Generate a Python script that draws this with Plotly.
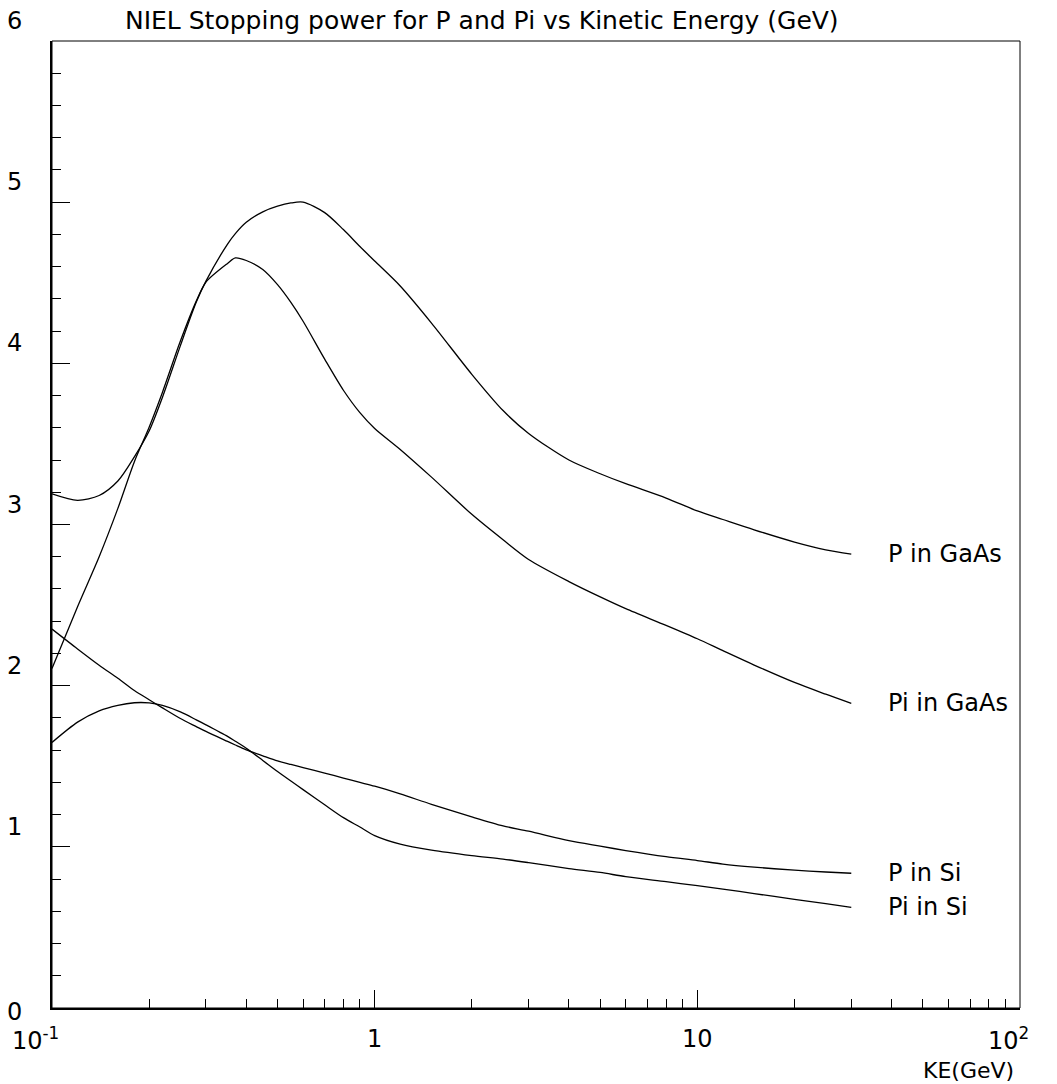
import math
import plotly.graph_objects as go

# ---------------- data ----------------
ke = [0.1, 0.12, 0.14, 0.16, 0.18, 0.2, 0.22, 0.25, 0.28, 0.3, 0.35, 0.37, 0.4, 0.45,
      0.5, 0.55, 0.6, 0.7, 0.8, 0.9, 1.0, 1.2, 1.5, 2.0, 2.5, 3.0, 4.0, 5.0, 6.0,
      8.0, 10.0, 12.0, 15.0, 20.0, 25.0, 30.0]

p_gaas = [3.19, 3.15, 3.18, 3.27, 3.42, 3.58, 3.79, 4.11, 4.38, 4.51, 4.74, 4.805, 4.875, 4.94,
          4.975, 4.995, 5.0, 4.935, 4.83, 4.725, 4.635, 4.48, 4.25, 3.932, 3.707, 3.565, 3.40,
          3.315, 3.253, 3.164, 3.084, 3.031, 2.967, 2.891, 2.843, 2.816]

pi_gaas = [2.107, 2.49, 2.80, 3.10, 3.39, 3.604, 3.821, 4.138, 4.386, 4.504, 4.62, 4.654, 4.638, 4.582,
           4.488, 4.378, 4.261, 4.026, 3.833, 3.694, 3.596, 3.466, 3.294, 3.063, 2.905, 2.783, 2.646,
           2.551, 2.478, 2.374, 2.291, 2.217, 2.128, 2.02, 1.947, 1.89]

p_si = [2.351, 2.228, 2.127, 2.046, 1.97, 1.913, 1.862, 1.796, 1.746, 1.716, 1.654, 1.632, 1.602, 1.565,
        1.533, 1.511, 1.492, 1.458, 1.427, 1.4, 1.376, 1.328, 1.264, 1.186, 1.13, 1.097, 1.038,
        1.004, 0.977, 0.939, 0.915, 0.893, 0.874, 0.855, 0.844, 0.836]

pi_si = [1.648, 1.774, 1.844, 1.878, 1.894, 1.893, 1.877, 1.837, 1.788, 1.757, 1.685, 1.655, 1.612, 1.536,
         1.467, 1.408, 1.355, 1.261, 1.181, 1.123, 1.07, 1.017, 0.98, 0.946, 0.924, 0.902, 0.865,
         0.841, 0.815, 0.784, 0.759, 0.738, 0.71, 0.674, 0.647, 0.625]

series_names = ["P in GaAs", "Pi in GaAs", "P in Si", "Pi in Si"]
series_values = [p_gaas, pi_gaas, p_si, pi_si]

y_tick_vals = [0, 1, 2, 3, 4, 5, 6]
y_tick_text = ["0", "1", "2", "3", "4", "5", "6"]
x_tick_vals = [0.1, 1, 10, 100]
x_tick_text = ["10<sup>-1</sup>", "1", "10", "10<sup>2</sup>"]
x_minor_vals = [m * d for d in (0.1, 1, 10) for m in range(2, 10)]

title_text = "NIEL Stopping power for P and Pi vs Kinetic Energy (GeV)"
x_title = "KE(GeV)"

FONT = "DejaVu Sans, Liberation Sans, sans-serif"
FS = 24

fig = go.Figure()
for name, vals in zip(series_names, series_values):
    fig.add_trace(go.Scatter(x=ke, y=vals, mode="lines", name=name,
                             line=dict(color="black", width=1.3, shape="spline", smoothing=0.8),
                             showlegend=False, hoverinfo="skip"))

annotations = []
# curve labels at the end of each curve (log axis -> annotation x in log10 units)
for name, vals in zip(series_names, series_values):
    annotations.append(dict(x=math.log10(ke[-1]), y=vals[-1], xref="x", yref="y", text=name,
                            showarrow=False, xanchor="left", yanchor="middle", xshift=35,
                            font=dict(family=FONT, size=FS, color="black")))
# y tick labels
for v, t in zip(y_tick_vals, y_tick_text):
    annotations.append(dict(x=0, y=v, xref="paper", yref="y", text=t, showarrow=False,
                            xanchor="right", yanchor="middle", xshift=-28,
                            yshift=(20 if v > 0 else -4),
                            font=dict(family=FONT, size=FS, color="black")))
# x tick labels
x_shifts = {0.1: -17, 1: 0, 10: 0, 100: -12}
for v, t in zip(x_tick_vals, x_tick_text):
    annotations.append(dict(x=math.log10(v), y=0, xref="x", yref="paper", text=t, showarrow=False,
                            xanchor="center", yanchor="middle", xshift=x_shifts[v], yshift=-31,
                            font=dict(family=FONT, size=FS, color="black")))
# x title
annotations.append(dict(x=1, y=0, xref="paper", yref="paper", text=x_title, showarrow=False,
                        xanchor="right", yanchor="middle", xshift=-4, yshift=-62,
                        font=dict(family=FONT, size=22, color="black")))

fig.update_layout(
    width=1057, height=1084,
    margin=dict(l=52, r=37, t=41, b=76, pad=0),
    paper_bgcolor="white", plot_bgcolor="white",
    title=dict(text=title_text, x=125 / 1057, xanchor="left", xref="container",
               y=1 - 20 / 1084, yanchor="middle", yref="container",
               font=dict(family=FONT, size=25, color="black")),
    annotations=annotations,
    shapes=[dict(type="rect", xref="paper", yref="paper", x0=0, x1=1, y0=0, y1=1,
                 line=dict(color="black", width=1), fillcolor="rgba(0,0,0,0)", layer="above")],
)

fig.update_xaxes(type="log", range=[-1, 2], showgrid=False, zeroline=False,
                 showline=True, linecolor="black", linewidth=2,
                 ticks="inside", tickvals=x_tick_vals, ticklen=18, tickwidth=1, tickcolor="black",
                 showticklabels=False,
                 minor=dict(ticks="inside", tickvals=x_minor_vals, ticklen=9, tickwidth=1,
                            tickcolor="black", showgrid=False))
fig.update_yaxes(range=[0, 6], showgrid=False, zeroline=False,
                 showline=True, linecolor="black", linewidth=2,
                 ticks="inside", tickvals=y_tick_vals, ticklen=18, tickwidth=1, tickcolor="black",
                 showticklabels=False,
                 minor=dict(ticks="inside", dtick=0.2, ticklen=9, tickwidth=1,
                            tickcolor="black", showgrid=False))

fig.write_html("out.html", config={"displayModeBar": False},
               post_script="document.body.style.margin='0';")
